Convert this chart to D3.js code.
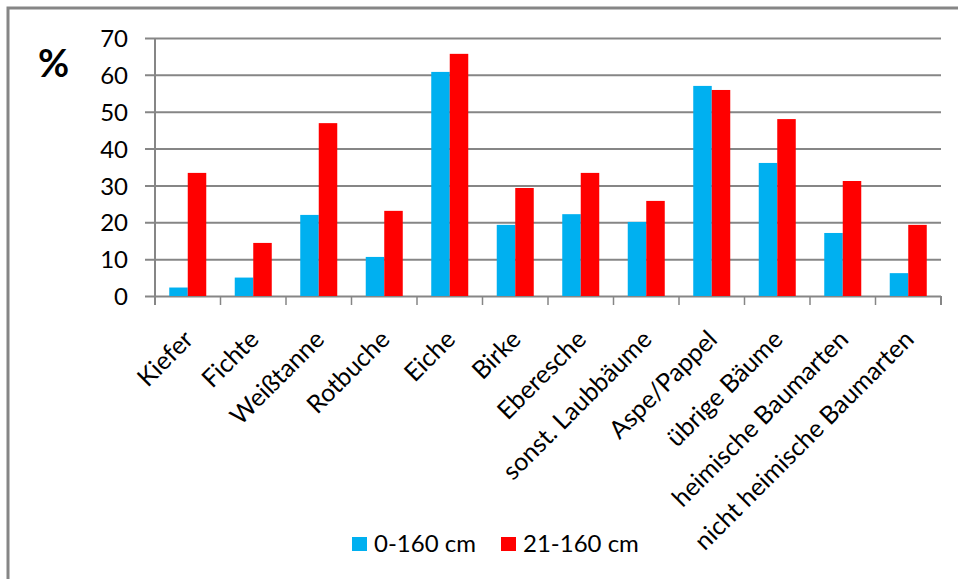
<!DOCTYPE html>
<html>
<head>
<meta charset="utf-8">
<script src="https://cdn.jsdelivr.net/npm/d3@7/dist/d3.min.js"></script>
<style>
  html, body { margin: 0; padding: 0; background: #fff; }
  svg { display: block; }
  text { font-family: Lato, "Open Sans", sans-serif; fill: #000; }
</style>
</head>
<body>
<svg id="chart" width="958" height="579"></svg>
<script>
// Tree species
const categories = [
  "Kiefer", "Fichte", "Weißtanne", "Rotbuche", "Eiche", "Birke", "Eberesche",
  "sonst. Laubbäume", "Aspe/Pappel", "übrige Bäume", "heimische Baumarten",
  "nicht heimische Baumarten"
];
// Share in percent per height class
const seriesNames = ["0-160 cm", "21-160 cm"];
const values0to160 = [2.3, 5.0, 22.0, 10.6, 60.8, 19.3, 22.2, 20.1, 57.0, 36.1, 17.1, 6.2];
const values21to160 = [33.4, 14.4, 46.9, 23.1, 65.7, 29.3, 33.4, 25.8, 55.9, 48.0, 31.2, 19.3];
const seriesColors = ["#00B0F0", "#FF0000"];
const yTicks = [0, 10, 20, 30, 40, 50, 60, 70];
const yUnit = "%";

const seriesValues = [values0to160, values21to160];
const rows = categories.map((c, i) => ({ cat: c, vals: seriesValues.map(s => s[i]) }));

const svg = d3.select("#chart");
const gray = "#868686";

const plot = { left: 155, right: 941, top: 38, bottom: 296 };

const x0 = d3.scaleBand()
  .domain(categories)
  .range([plot.left, plot.right])
  .paddingInner(0.435)
  .paddingOuter(0.2175);
const x1 = d3.scaleBand()
  .domain(d3.range(seriesNames.length))
  .range([0, x0.bandwidth()]);
const y = d3.scaleLinear().domain([0, 70]).range([plot.bottom, plot.top]);

// Frame of the chart area
svg.append("path")
  .attr("d", "M8,579 L8,8 L958,8")
  .attr("fill", "none")
  .attr("stroke", gray)
  .attr("stroke-width", 3);

// Horizontal gridlines with short outer ticks
const yAxis = d3.axisLeft(y)
  .tickValues(yTicks)
  .tickSize(-(plot.right - plot.left))
  .tickSizeOuter(0)
  .tickPadding(27)
  .tickFormat(d3.format("d"));
const gy = svg.append("g")
  .attr("transform", `translate(${plot.left},0)`)
  .call(yAxis);
gy.select(".domain").remove();
gy.selectAll(".tick line")
  .attr("x1", -10)
  .attr("stroke", gray)
  .attr("stroke-width", 2);
gy.selectAll(".tick text")
  .attr("font-size", 24)
  .attr("dy", "0.36em")
  .style("font-family", "Lato, sans-serif");

// Vertical axis line
svg.append("line")
  .attr("x1", plot.left).attr("x2", plot.left)
  .attr("y1", plot.top).attr("y2", plot.bottom + 9)
  .attr("stroke", gray).attr("stroke-width", 2);

// Category boundary ticks below the baseline
const step = x0.step();
const boundaries = d3.range(categories.length + 1).map(i => plot.left + i * step);
svg.append("g").selectAll("line")
  .data(boundaries)
  .join("line")
  .attr("x1", d => d).attr("x2", d => d)
  .attr("y1", plot.bottom).attr("y2", plot.bottom + 9)
  .attr("stroke", gray)
  .attr("stroke-width", (d, i) => (i === 0 || i === categories.length) ? 2 : 1.5);

// Bars
const groups = svg.append("g").selectAll("g")
  .data(rows)
  .join("g")
  .attr("transform", d => `translate(${x0(d.cat)},0)`);
groups.selectAll("rect")
  .data(d => d.vals.map((v, k) => ({ v, k })))
  .join("rect")
  .attr("x", d => x1(d.k))
  .attr("width", x1.bandwidth())
  .attr("y", d => y(d.v))
  .attr("height", d => y(0) - y(d.v))
  .attr("fill", d => seriesColors[d.k]);

// Rotated category labels
svg.append("g").selectAll("text")
  .data(categories)
  .join("text")
  .attr("transform", d => `translate(${x0(d) + x0.bandwidth() / 2 + 7},341) rotate(-45)`)
  .attr("text-anchor", "end")
  .attr("font-size", 25)
  .text(d => d);

// Unit label
svg.append("text")
  .attr("x", 38).attr("y", 77)
  .attr("font-size", 38)
  .attr("font-weight", "bold")
  .text(yUnit);

// Legend
const legendX = [352, 501];
const legend = svg.append("g").selectAll("g")
  .data(seriesNames)
  .join("g")
  .attr("transform", (d, i) => `translate(${legendX[i]},537)`);
legend.append("rect")
  .attr("width", 15).attr("height", 14)
  .attr("fill", (d, i) => seriesColors[i]);
legend.append("text")
  .attr("x", 22).attr("y", 15)
  .attr("font-size", 24)
  .text(d => d);
</script>
</body>
</html>
